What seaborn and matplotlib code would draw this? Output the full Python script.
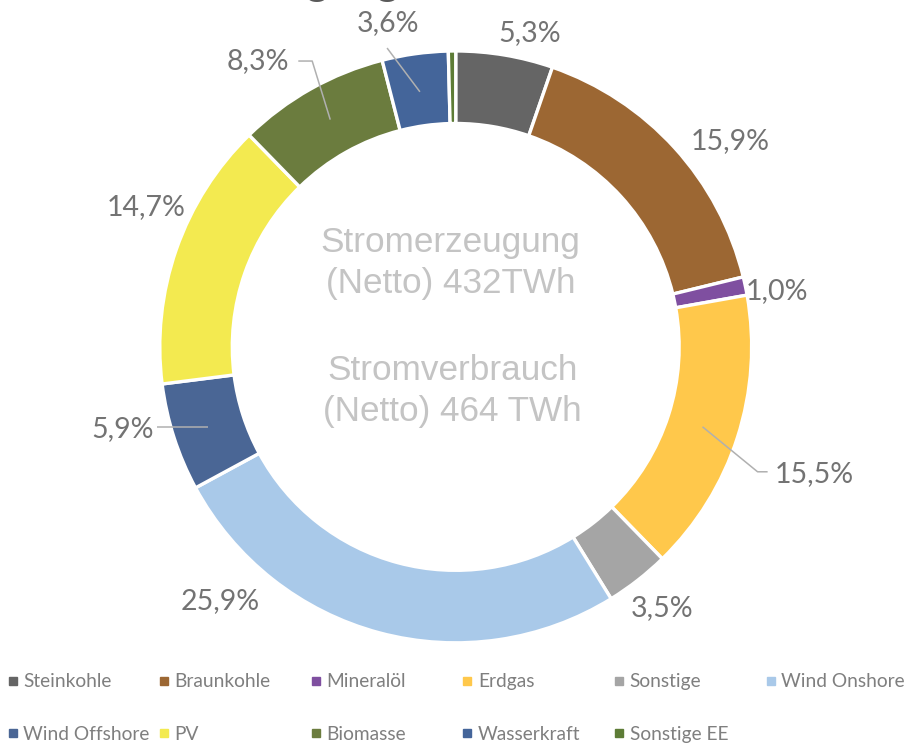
import matplotlib
matplotlib.use("Agg")
import matplotlib.pyplot as plt
import seaborn as sns
from matplotlib.lines import Line2D

sns.set_theme(style="white")
plt.rcParams['font.family'] = ['Lato', 'DejaVu Sans']

categories = ["Steinkohle", "Braunkohle", "Mineralöl", "Erdgas", "Sonstige",
              "Wind Onshore", "Wind Offshore", "PV", "Biomasse", "Wasserkraft",
              "Sonstige EE"]
values = [5.3, 15.9, 1.0, 15.5, 3.5, 25.9, 5.9, 14.7, 8.3, 3.6, 0.4]
labels = ["5,3%", "15,9%", "1,0%", "15,5%", "3,5%", "25,9%", "5,9%", "14,7%",
          "8,3%", "3,6%", ""]
colors = ["#656565", "#9c6733", "#7f4fa0", "#ffc84b", "#a5a5a5", "#a9c9e9",
          "#4a6695", "#f3ea50", "#6b7c3e", "#44659a", "#5d7c36"]
center_text_1 = "Stromerzeugung\n(Netto) 432TWh"
center_text_2 = "Stromverbrauch\n(Netto) 464 TWh"
title = "Stromerzeugung"

# label placement (data units, pie radius = 1)
label_pos = [(0.249, 1.061), (0.926, 0.697), (1.084, 0.189), (1.212, -0.431),
             (0.697, -0.883), (-0.795, -0.860), (-1.125, -0.279), (-1.047, 0.471),
             (-0.667, 0.966), (-0.229, 1.094), None]
# leader lines (data units)
leaders = {
    3: [(0.834, -0.27), (1.02, -0.422), (1.054, -0.422)],
    6: [(-1.01, -0.269), (-0.838, -0.269)],
    8: [(-0.532, 0.966), (-0.485, 0.966), (-0.424, 0.768)],
    9: [(-0.232, 1.01), (-0.121, 0.862)],
}

fig = plt.figure(figsize=(9.15, 7.45), dpi=100)
ax = fig.add_axes([0, 0, 1, 1])
ax.axis("off")

wedges, _ = ax.pie(values, colors=colors, startangle=90, counterclock=False,
                   radius=1.0,
                   wedgeprops=dict(width=0.245, edgecolor="white", linewidth=2.4))
ax.set_xlim(-1.54, 1.552)
ax.set_ylim(-1.345, 1.172)

lab_color = "#737373"
for i, (lab, pos) in enumerate(zip(labels, label_pos)):
    if pos is None or not lab:
        continue
    ax.text(pos[0], pos[1], lab, ha="center", va="center", fontsize=20.5,
            color=lab_color)
for i, pts in leaders.items():
    xs = [p[0] for p in pts]
    ys = [p[1] for p in pts]
    ax.plot(xs, ys, color="#b0b0b0", lw=1.1, solid_capstyle="butt")

ax.text(-0.017, 0.283, center_text_1, ha="center", va="center",
        multialignment="center", fontsize=25.3, color="#c4c4c4",
        family=["Liberation Sans", "DejaVu Sans"], linespacing=1.3)
ax.text(-0.012, -0.148, center_text_2, ha="center", va="center",
        multialignment="center", fontsize=25.3, color="#c4c4c4",
        family=["Liberation Sans", "DejaVu Sans"], linespacing=1.3)

# partially cut title at the top
fig.text(0.097, 1.0072, title, ha="left", va="baseline", fontsize=31,
         color="#595959")

# legend: one legend per column for equal column spacing
ncol = 6
col_x = [0.0085 + k * 0.1657 for k in range(ncol)]
for c in range(ncol):
    idx = [i for i in range(len(categories)) if i % ncol == c]
    handles = [Line2D([0], [0], marker="s", linestyle="", markersize=5.5,
                      markerfacecolor=colors[i], markeredgecolor=colors[i])
               for i in idx]
    leg = fig.legend(handles, [categories[i] for i in idx],
                     loc="upper left", bbox_to_anchor=(col_x[c], 0.096),
                     frameon=False, fontsize=13.8, labelcolor="#7f7f7f",
                     handlelength=0.5, handletextpad=0.3, labelspacing=1.85,
                     borderpad=0.0, borderaxespad=0.0)

fig.savefig("out.png", dpi=100, facecolor="white")
